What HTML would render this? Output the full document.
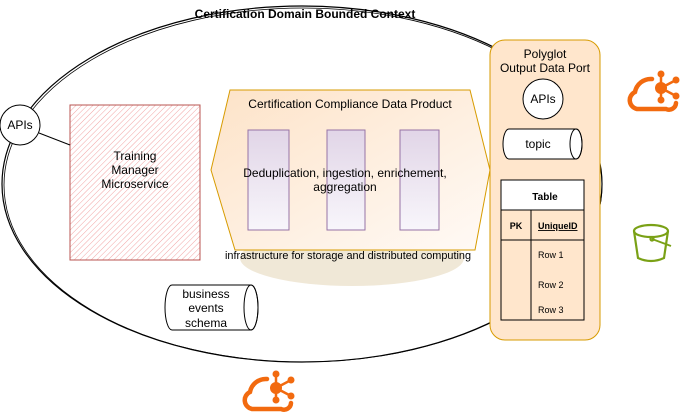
<!DOCTYPE html>
<html><head><style>body{margin:0;background:#fff}svg{display:block;font-family:"Liberation Sans",sans-serif}</style></head><body>
<svg width="681" height="413" viewBox="0 0 681 413">
<defs>
<pattern id="h" width="4" height="4" patternUnits="userSpaceOnUse" patternTransform="rotate(45)"><line x1="0" y1="0" x2="0" y2="4" stroke="#f2a5a5" stroke-width="1"/></pattern>
<linearGradient id="pg" x1="0" y1="0" x2="0" y2="1"><stop offset="0" stop-color="#e1d5e7"/><stop offset="1" stop-color="#f8f6fb"/></linearGradient>
<linearGradient id="hg" x1="0" y1="0" x2="1" y2="1"><stop offset="0" stop-color="#fde3c8"/><stop offset="1" stop-color="#fffaf6"/></linearGradient>
</defs>
<ellipse cx="302" cy="184" rx="300" ry="178" fill="none" stroke="#000" stroke-width="1.2"/>
<ellipse cx="303" cy="185" rx="299" ry="177" fill="none" stroke="#000" stroke-width="0.8"/>
<text x="305" y="18" font-size="12" font-weight="bold" text-anchor="middle">Certification Domain Bounded Context</text>
<ellipse cx="352" cy="258" rx="112" ry="28" fill="#ede4d0" opacity="0.85"/>
<polygon points="230,90 470,90 490,170 475,250 235,250 211,170" fill="url(#hg)" stroke="#d79b00"/>
<text x="350" y="108" font-size="12" text-anchor="middle">Certification Compliance Data Product</text>
<rect x="248" y="130" width="41" height="100" fill="url(#pg)" stroke="#9673a6"/>
<rect x="327" y="130" width="38" height="100" fill="url(#pg)" stroke="#9673a6"/>
<rect x="400" y="130" width="39" height="100" fill="url(#pg)" stroke="#9673a6"/>
<text x="345" y="177" font-size="12" text-anchor="middle">Deduplication, ingestion, enrichement,</text>
<text x="345" y="191" font-size="12" text-anchor="middle">aggregation</text>
<text x="348" y="259" font-size="11" text-anchor="middle" textLength="246" lengthAdjust="spacingAndGlyphs">infrastructure for storage and distributed computing</text>
<rect x="70" y="105" width="130" height="155" fill="url(#h)" stroke="#b85450"/>
<text x="135" y="160" font-size="12" text-anchor="middle">Training</text>
<text x="135" y="174" font-size="12" text-anchor="middle">Manager</text>
<text x="135" y="188" font-size="12" text-anchor="middle">Microservice</text>
<line x1="39" y1="133" x2="70" y2="145" stroke="#000"/>
<circle cx="20" cy="125" r="20" fill="#fff" stroke="#000"/>
<text x="20" y="129" font-size="12" text-anchor="middle">APIs</text>
<path d="M172,285 H251 A7,22.5 0 0 1 251,330 H172 A7,22.5 0 0 1 172,285 Z" fill="#fff" stroke="#000"/>
<ellipse cx="251" cy="307.5" rx="7" ry="22.5" fill="none" stroke="#000"/>
<text x="206" y="298" font-size="12" text-anchor="middle">business</text>
<text x="206" y="312" font-size="12" text-anchor="middle">events</text>
<text x="206" y="327" font-size="12" text-anchor="middle">schema</text>
<rect x="490" y="40" width="110" height="300" rx="15" fill="#ffe6cc" stroke="#d79b00"/>
<text x="545" y="58" font-size="12" text-anchor="middle">Polyglot</text>
<text x="545" y="72" font-size="12" text-anchor="middle">Output Data Port</text>
<circle cx="543" cy="99" r="20" fill="#fff" stroke="#000"/>
<text x="543" y="103" font-size="12" text-anchor="middle">APIs</text>
<path d="M509,129 H576 A6,15 0 0 1 576,159 H509 A6,15 0 0 1 509,129 Z" fill="#fff" stroke="#000"/>
<ellipse cx="576" cy="144" rx="6" ry="15" fill="none" stroke="#000"/>
<text x="538" y="148" font-size="12" text-anchor="middle">topic</text>
<rect x="501" y="180" width="83" height="140" fill="#ffe6cc" stroke="#000"/>
<rect x="501" y="180" width="83" height="30" fill="#fff" stroke="#000"/>
<line x1="501" y1="240" x2="584" y2="240" stroke="#000"/>
<line x1="531" y1="210" x2="531" y2="320" stroke="#000"/>
<text x="545" y="200" font-size="10" font-weight="bold" text-anchor="middle">Table</text>
<text x="516" y="229" font-size="9" font-weight="bold" text-anchor="middle">PK</text>
<text x="538" y="229" font-size="9" font-weight="bold" text-decoration="underline">UniqueID</text>
<text x="538" y="258" font-size="9">Row 1</text>
<text x="538" y="288" font-size="9">Row 2</text>
<text x="538" y="313" font-size="9">Row 3</text>
<g id="cl" fill="none" stroke="#f26a0f" stroke-linecap="round">
<path d="M652,79 A16,16 0 0 0 635,92 A9,9 0 0 0 637,109 H666 A7,7 0 0 0 676,103" stroke-width="4.5"/>
<g stroke-width="2.5">
<line x1="661" y1="88" x2="661" y2="74"/>
<line x1="661" y1="88" x2="676" y2="80"/>
<line x1="661" y1="88" x2="676" y2="96"/>
<line x1="661" y1="88" x2="661" y2="100"/>
</g>
<g fill="#f26a0f" stroke="none">
<circle cx="661" cy="88" r="6"/>
<circle cx="661" cy="74" r="3.5"/>
<circle cx="676" cy="80" r="3.5"/>
<circle cx="676" cy="96" r="3.5"/>
<circle cx="661" cy="100" r="3.5"/>
</g>
</g>
<use href="#cl" transform="translate(-385,300)"/>
<g fill="none" stroke="#7aa116" stroke-width="2.2">
<ellipse cx="651" cy="231" rx="17" ry="6"/>
<path d="M634,231 L638,258 Q651,264 664,258 L668,231"/>
<path d="M652,239 L671,246" stroke-width="1.8"/>
<circle cx="652" cy="239" r="1.5"/>
</g>
</svg>
</body></html>
